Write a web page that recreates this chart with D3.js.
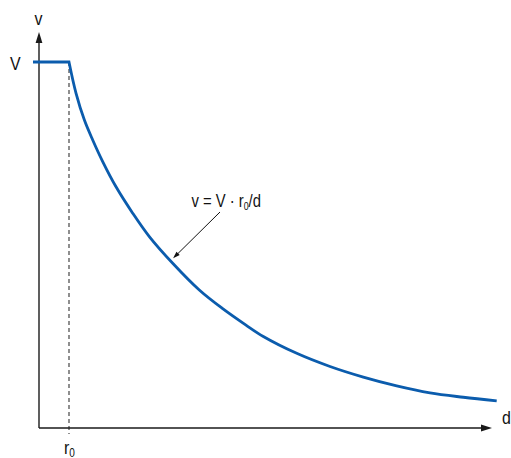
<!DOCTYPE html>
<html>
<head>
<meta charset="utf-8">
<script src="https://cdn.jsdelivr.net/npm/d3@7/dist/d3.min.js"></script>
<style>
  html, body { margin: 0; padding: 0; background: #fff; }
  svg text { font-family: "Liberation Sans", Arial, sans-serif; fill: #111; }
</style>
</head>
<body>
<svg id="chart" width="511" height="458"></svg>
<script>
// Distance d in units of r0, speed v in units of V
const r0 = 1;
const V = 1;
const plateauStart = -0.2;       // flat part starts just left of the v axis
const dAxisMax = 15.1;           // end of the d axis arrow
const vAxisMax = 1.082;          // end of the v axis arrow

// Decay branch beyond r0, v = V·r0/d
const curveD = [1.0, 1.233, 1.51, 1.79, 2.123, 2.567, 3.123, 3.677, 4.457, 5.343, 6.123, 6.9, 7.477, 8.59, 9.7, 10.81, 11.923, 13.033, 14.143, 15.257];
const curveV = [1.0, 0.915, 0.842, 0.787, 0.728, 0.659, 0.587, 0.523, 0.450, 0.377, 0.326, 0.281, 0.250, 0.204, 0.168, 0.139, 0.115, 0.096, 0.084, 0.074];

const labels = { vAxis: "v", dAxis: "d", V: "V", r0: "r", sub: "0" };

const svg = d3.select("#chart");
const x = d3.scaleLinear().domain([0, 1]).range([39, 69]);
const y = d3.scaleLinear().domain([0, 1]).range([428, 62]);

const axisColor = "#1a1a1a";
const blue = "#0b5cad";
const narrow = 0.84;   // condensed lettering

// dashed guide at r0
svg.append("line")
  .attr("x1", x(r0)).attr("x2", x(r0))
  .attr("y1", y(V)).attr("y2", y(0) + 6)
  .attr("stroke", "#333").attr("stroke-width", 1.1)
  .attr("stroke-dasharray", "4,3");

// axes
svg.append("line")
  .attr("x1", x(0)).attr("x2", x(0))
  .attr("y1", y(0)).attr("y2", y(vAxisMax) + 6)
  .attr("stroke", axisColor).attr("stroke-width", 1.4);
svg.append("line")
  .attr("x1", x(0)).attr("x2", x(dAxisMax) - 6)
  .attr("y1", y(0)).attr("y2", y(0))
  .attr("stroke", axisColor).attr("stroke-width", 1.4);

// axis arrowheads
const vt = [x(0), y(vAxisMax)];
svg.append("path")
  .attr("d", `M${vt[0]},${vt[1]} L${vt[0] - 3.4},${vt[1] + 11} L${vt[0] + 3.4},${vt[1] + 11} Z`)
  .attr("fill", axisColor);
const dt = [x(dAxisMax), y(0)];
svg.append("path")
  .attr("d", `M${dt[0]},${dt[1]} L${dt[0] - 11},${dt[1] - 3.4} L${dt[0] - 11},${dt[1] + 3.4} Z`)
  .attr("fill", axisColor);

// speed curve: plateau up to r0, then decay
const pts = curveD.map((d, i) => [d, curveV[i]]);
const decay = d3.line().x(d => x(d[0])).y(d => y(d[1])).curve(d3.curveCatmullRom.alpha(0.5))(pts);
const pathD = `M${x(plateauStart)},${y(V)}L` + decay.slice(1);
svg.append("path")
  .attr("d", pathD)
  .attr("fill", "none")
  .attr("stroke", blue)
  .attr("stroke-width", 2.8)
  .attr("stroke-linejoin", "miter");

// condensed text helper
function label(px, py, size, anchor, squeeze) {
  return svg.append("g")
    .attr("transform", `translate(${px},${py}) scale(${squeeze || narrow},1)`)
    .append("text")
    .attr("font-size", size)
    .attr("text-anchor", anchor || "start");
}

const fs = 19;
label(x(0) - 0.5, 25, fs, "middle").text(labels.vAxis);
label(15.3, y(V) + 8, fs, "middle").text(labels.V);
label(502, 424, fs).text(labels.dAxis);
const rl = label(64, 454, fs);
rl.append("tspan").text(labels.r0);
rl.append("tspan").attr("font-size", 12).attr("dy", 3).text(labels.sub);

// formula annotation
const eq = label(191.5, 207, 18.5, "start", 0.8);
eq.append("tspan").text("v = V · r");
eq.append("tspan").attr("font-size", 11).attr("dy", 3).text("0");
eq.append("tspan").attr("dy", -3).text("/d");

// leader arrow to the curve
const a0 = [220, 212], a1 = [x(4.47), y(0.45) - 5];
const ang = Math.atan2(a1[1] - a0[1], a1[0] - a0[0]);
svg.append("line")
  .attr("x1", a0[0]).attr("y1", a0[1])
  .attr("x2", a1[0] - 5 * Math.cos(ang)).attr("y2", a1[1] - 5 * Math.sin(ang))
  .attr("stroke", "#111").attr("stroke-width", 1);
const hl = 7, hw = 2.3;
const bx = a1[0] - hl * Math.cos(ang), by = a1[1] - hl * Math.sin(ang);
svg.append("path")
  .attr("d", `M${a1[0]},${a1[1]} L${bx - hw * Math.sin(ang)},${by + hw * Math.cos(ang)} L${bx + hw * Math.sin(ang)},${by - hw * Math.cos(ang)} Z`)
  .attr("fill", "#111");
</script>
</body>
</html>
